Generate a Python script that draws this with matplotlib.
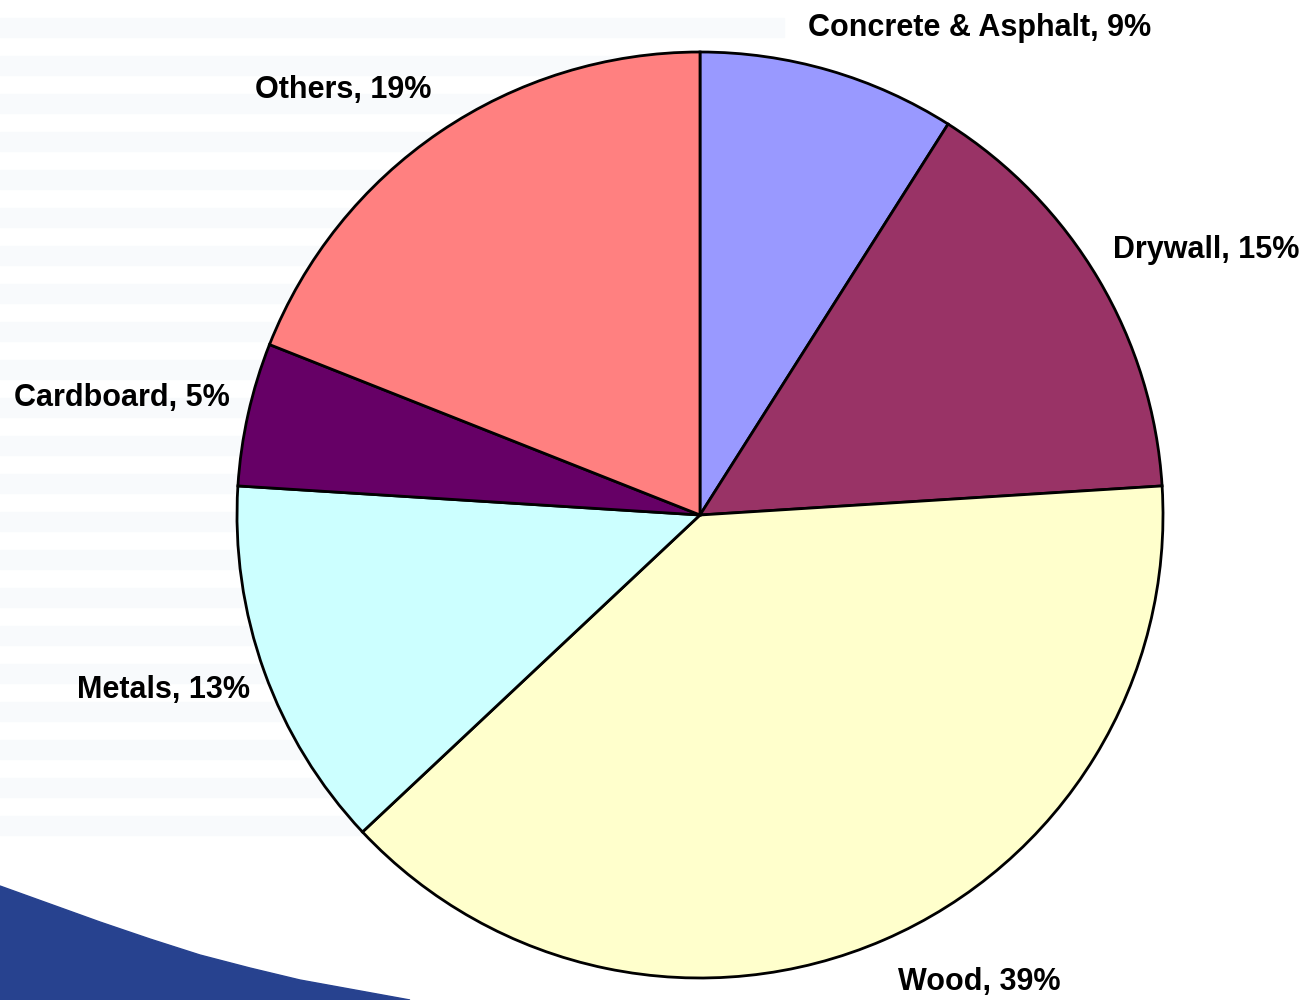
"""Pie chart of construction waste composition."""

import matplotlib.pyplot as plt
from matplotlib.patches import Polygon
from matplotlib.transforms import offset_copy

categories = ["Concrete & Asphalt", "Drywall", "Wood", "Metals", "Cardboard", "Others"]
shares = [9, 15, 39, 13, 5, 19]
colors = ["#9999FF", "#993366", "#FFFFCC", "#CCFFFF", "#660066", "#FF8080"]

# small pixel nudges so labels sit where the original tool put them
label_nudge = [(-32, 7), (-17, 10), (-1, -8), (20, -6), (18, 8), (12, 11)]


def main() -> None:
    plt.rcParams["font.family"] = ["Liberation Sans", "DejaVu Sans"]
    fig = plt.figure(figsize=(13.07, 10), dpi=100)
    fig.patch.set_facecolor("white")

    # very faint stripes in the background
    for i in range(22):
        y0 = 1 - (18 + i * 38) / 1000
        w = max(0.25, 0.6 - i * 0.015)
        fig.patches.append(plt.Rectangle((0, y0 - 0.019), w, 0.019,
                                         transform=fig.transFigure, color="#F8FAFC",
                                         zorder=-2))

    # blue swoosh bottom left
    pts = [(0, 886), (50, 904), (100, 922), (150, 939), (200, 955), (250, 968),
           (300, 980), (355, 990), (410, 1000), (0, 1000)]
    fig.patches.append(Polygon([(x / 1307, 1 - y / 1000) for x, y in pts], closed=True,
                               transform=fig.transFigure, color="#27428F", zorder=-1))

    ax = fig.add_axes([237 / 1307, 22 / 1000, 926 / 1307, 926 / 1000])
    labels = [f"{c}, {v}%" for c, v in zip(categories, shares)]
    wedges, texts = ax.pie(shares, labels=labels, colors=colors, startangle=90,
                           counterclock=False, labeldistance=1.08,
                           wedgeprops=dict(edgecolor="black", linewidth=2.0),
                           textprops=dict(fontsize=22, fontweight="bold", color="black"))
    for t, (dx, dy) in zip(texts, label_nudge):
        t.set_clip_on(False)
        t.set_transform(offset_copy(t.get_transform(), fig=fig, x=dx, y=dy, units="dots"))
    ax.set_xlim(-1, 1)
    ax.set_ylim(-1, 1)
    ax.set_aspect("equal")
    ax.axis("off")
    fig.savefig("out.png", dpi=100, facecolor="white")
    plt.close(fig)


if __name__ == "__main__":
    main()
